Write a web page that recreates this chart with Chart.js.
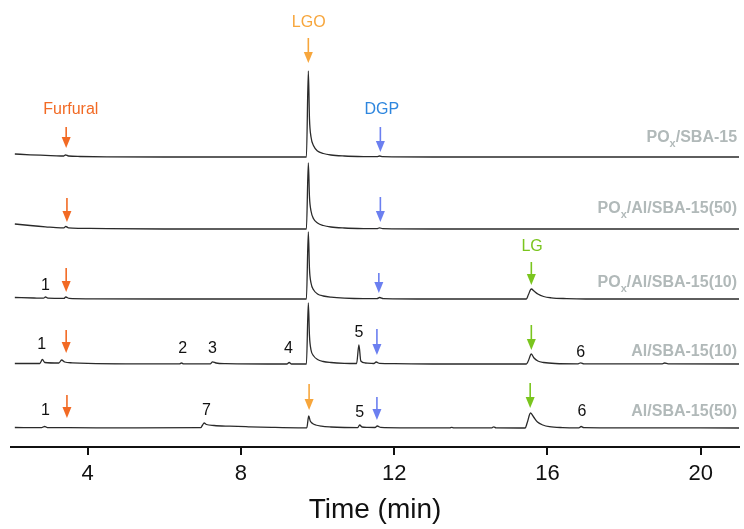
<!DOCTYPE html>
<html>
<head>
<meta charset="utf-8">
<script src="https://cdn.jsdelivr.net/npm/chart.js@4.4.1/dist/chart.umd.min.js"></script>
<style>
  html, body { margin: 0; padding: 0; background: #fff; }
  #wrap { width: 744px; height: 529px; }
</style>
</head>
<body>
<div id="wrap"><canvas id="myChart"></canvas></div>
<script>
// chromatograms: [time (min), signal above own baseline]
const poxSba15 = [
  [2.1, 3], [2.5, 2.2], [2.9, 1.6], [3.3, 1], [3.38, 1], [3.42, 2.2], [3.5, 1], [3.8, 0.5], [4.5, 0.2],
  [6, 0], [8, 0], [9.5, 0], [9.71, 0], [9.76, 86], [9.79, 38], [9.83, 20], [9.9, 11], [10.0, 6],
  [10.15, 3.5], [10.35, 2], [10.7, 1], [11.2, 0.4], [11.55, 0.3], [11.62, 1], [11.7, 0.3], [13, 0],
  [16, 0], [21, 0]
];
const poxAlSba50 = [
  [2.1, 5], [2.5, 3.5], [2.9, 2.2], [3.3, 1.2], [3.38, 1.2], [3.43, 2.5], [3.5, 1.2], [3.8, 0.7], [4.5, 0.3],
  [6, 0], [9.71, 0], [9.76, 66], [9.79, 32], [9.83, 18], [9.9, 10], [10.0, 6], [10.15, 3.5], [10.35, 2],
  [10.7, 1], [11.2, 0.4], [11.55, 0.3], [11.62, 1.2], [11.7, 0.3], [13, 0], [21, 0]
];
const poxAlSba10 = [
  [2.1, 1.5], [2.6, 1], [2.85, 0.8], [2.9, 2], [2.96, 0.8], [3.38, 0.6], [3.43, 2], [3.52, 0.6], [4, 0.2],
  [6, 0], [9.71, 0], [9.76, 67], [9.79, 30], [9.83, 16], [9.9, 9], [10.0, 5], [10.15, 3], [10.35, 1.8],
  [10.7, 0.8], [11.2, 0.3], [11.55, 0.3], [11.62, 1.5], [11.72, 0.4], [13, 0], [15.45, 0], [15.5, 4],
  [15.58, 10], [15.65, 8], [15.75, 5], [15.9, 2.5], [16.1, 1.2], [16.5, 0.4], [17, 0], [21, 0]
];
const alSba10 = [
  [2.1, 0.5], [2.75, 0.5], [2.82, 4.5], [2.88, 1.5], [3.25, 1], [3.32, 4], [3.4, 2], [3.6, 1.2], [4, 0.6],
  [5, 0.2], [6.4, 0.2], [6.45, 1], [6.5, 0.2], [7.2, 0.2], [7.26, 2.2], [7.35, 1], [7.6, 0.4], [9.2, 0],
  [9.26, 1.5], [9.32, 0], [9.71, 0], [9.76, 61], [9.79, 28], [9.83, 14], [9.9, 8], [10.0, 4.5],
  [10.15, 2.5], [10.35, 1.5], [10.7, 0.7], [11.02, 0.5], [11.08, 19], [11.13, 3], [11.25, 1],
  [11.47, 0.5], [11.53, 2], [11.62, 0.6], [12, 0.3], [13, 0], [15.45, 0], [15.5, 3], [15.58, 10],
  [15.65, 6], [15.75, 3], [15.9, 1.5], [16.2, 0.5], [16.8, 0.2], [16.87, 1.2], [16.95, 0.2], [19, 0.2],
  [19.06, 1], [19.15, 0.2], [21, 0]
];
const alSba50 = [
  [2.1, 0.5], [2.8, 0.4], [2.88, 1.5], [2.95, 0.4], [3.5, 0.3], [5, 0.1], [6.95, 0.3], [7.0, 3], [7.04, 5],
  [7.1, 3.5], [7.3, 2.5], [7.7, 1.8], [8.2, 1.2], [8.8, 0.6], [9.5, 0.2], [9.72, 0.2], [9.77, 12],
  [9.81, 7], [9.87, 4.5], [9.95, 3], [10.1, 1.8], [10.35, 1], [10.7, 0.5], [11.05, 0.4], [11.1, 3],
  [11.16, 1], [11.3, 0.6], [11.5, 0.5], [11.56, 2], [11.65, 0.6], [12.2, 0.2], [13.45, 0.1], [13.5, 0.7],
  [13.56, 0.1], [14.55, 0.1], [14.6, 1.2], [14.66, 0.1], [15.42, 0], [15.47, 5], [15.56, 15], [15.64, 11],
  [15.74, 6], [15.88, 3], [16.05, 1.3], [16.4, 0.4], [16.82, 0.2], [16.88, 1.5], [16.95, 0.3], [18, 0.1],
  [21, 0]
];

const traces = [poxSba15, poxAlSba50, poxAlSba10, alSba10, alSba50];
const offsets = [290, 218, 148, 83, 19];
const sampleNames = ['PO_x/SBA-15', 'PO_x/Al/SBA-15(50)', 'PO_x/Al/SBA-15(10)', 'Al/SBA-15(10)', 'Al/SBA-15(50)'];
const sampleLabelY = [309, 238, 164, 95, 35];
const xTicks = [4, 8, 12, 16, 20];

// arrows: [time, top, tip, compound]
const arrows = [
  [3.44, 320, 299, 'furfural'], [11.64, 320, 295, 'dgp'], [9.76, 409, 384, 'lgo'],
  [3.46, 249, 225, 'furfural'], [11.64, 250, 225, 'dgp'],
  [3.44, 179, 155, 'furfural'], [11.6, 174, 154, 'dgp'], [15.58, 185, 162, 'lg'],
  [3.44, 117, 94, 'furfural'], [11.55, 118, 92, 'dgp'], [15.58, 122, 97, 'lg'],
  [3.46, 52, 29, 'furfural'], [9.78, 63, 37, 'lgo'], [11.55, 50, 27, 'dgp'], [15.55, 64, 39, 'lg']
];
const compoundLabels = [['Furfural', 3.56, 337, 'furfural'], ['LGO', 9.77, 424, 'lgo'], ['DGP', 11.68, 337, 'dgp'], ['LG', 15.6, 200, 'lg']];
const peakNumbers = [
  ['1', 2.9, 161],
  ['1', 2.8, 102], ['2', 6.48, 98], ['3', 7.26, 98], ['4', 9.24, 98], ['5', 11.08, 114], ['6', 16.87, 94],
  ['1', 2.9, 36], ['7', 7.1, 36], ['5', 11.1, 34], ['6', 16.9, 35]
];

const arrowColors = { furfural: '#f26a24', lgo: '#f7a63c', dgp: '#6b7ff0', lg: '#7ac51e' };
const textColors = { furfural: '#f26a24', lgo: '#f7a63c', dgp: '#2e86de', lg: '#7ac51e' };
const FONT = '"Liberation Sans", Arial, sans-serif';

const annotations = {
  id: 'annotations',
  afterDatasetsDraw(chart) {
    const ctx = chart.ctx;
    const xs = chart.scales.x, ys = chart.scales.y;
    ctx.save();
    // arrows
    arrows.forEach(([t, top, tip, key]) => {
      const x = xs.getPixelForValue(t);
      const y0 = ys.getPixelForValue(top);
      const y1 = ys.getPixelForValue(tip);
      ctx.strokeStyle = arrowColors[key];
      ctx.fillStyle = arrowColors[key];
      ctx.lineWidth = 1.6;
      ctx.beginPath();
      ctx.moveTo(x, y0);
      ctx.lineTo(x, y1 - 8);
      ctx.stroke();
      ctx.beginPath();
      ctx.moveTo(x - 4.5, y1 - 11);
      ctx.lineTo(x + 4.5, y1 - 11);
      ctx.lineTo(x, y1);
      ctx.closePath();
      ctx.fill();
    });
    ctx.textAlign = 'center';
    ctx.textBaseline = 'middle';
    ctx.font = '16px ' + FONT;
    compoundLabels.forEach(([txt, t, y, key]) => {
      ctx.fillStyle = textColors[key];
      ctx.fillText(txt, xs.getPixelForValue(t), ys.getPixelForValue(y));
    });
    ctx.fillStyle = '#111';
    peakNumbers.forEach(([txt, t, y]) => {
      ctx.fillText(txt, xs.getPixelForValue(t), ys.getPixelForValue(y));
    });
    // sample names, right aligned, with subscript x
    const right = xs.getPixelForValue(20.95);
    ctx.fillStyle = '#b1b9b9';
    ctx.textAlign = 'left';
    sampleNames.forEach((name, i) => {
      const parts = name.split('_x');
      const big = 'bold 16px ' + FONT, small = 'bold 11px ' + FONT;
      const segs = parts.length > 1 ? [[parts[0], big, 0], ['x', small, 6], [parts[1], big, 0]] : [[name, big, 0]];
      let w = 0;
      segs.forEach(s => { ctx.font = s[1]; w += ctx.measureText(s[0]).width; });
      let x = right - w;
      const y = ys.getPixelForValue(sampleLabelY[i]);
      segs.forEach(s => {
        ctx.font = s[1];
        ctx.fillText(s[0], x, y + s[2]);
        x += ctx.measureText(s[0]).width;
      });
    });
    ctx.restore();
  }
};

const datasets = traces.map((tr, i) => ({
  label: sampleNames[i],
  data: tr.map(p => ({ x: p[0], y: offsets[i] + p[1] })),
  borderColor: '#2a2a2a',
  borderWidth: 1.3,
  pointRadius: 0,
  fill: false,
  cubicInterpolationMode: 'monotone'
}));

const config = {
  type: 'line',
  data: { datasets: datasets },
  options: {
    responsive: true,
    maintainAspectRatio: false,
    animation: false,
    layout: { padding: { left: 11, right: 5, top: 7, bottom: 0 } },
    plugins: { legend: { display: false }, tooltip: { enabled: false } },
    scales: {
      x: {
        type: 'linear',
        min: 2,
        max: 21,
        afterBuildTicks: axis => { axis.ticks = xTicks.map(v => ({ value: v })); },
        grid: { display: true, drawOnChartArea: false, drawTicks: true, tickLength: 8, color: '#111', lineWidth: 2 },
        border: { display: true, color: '#111', width: 2 },
        ticks: { color: '#111', padding: 6, font: { family: FONT, size: 22 } },
        title: { display: true, text: 'Time (min)', color: '#111', padding: { top: 0, bottom: 2 }, font: { family: FONT, size: 28 } }
      },
      y: { display: false, min: 0, max: 440 }
    }
  },
  plugins: [annotations]
};

const myChart = new Chart(document.getElementById('myChart'), config);
</script>
</body>
</html>
